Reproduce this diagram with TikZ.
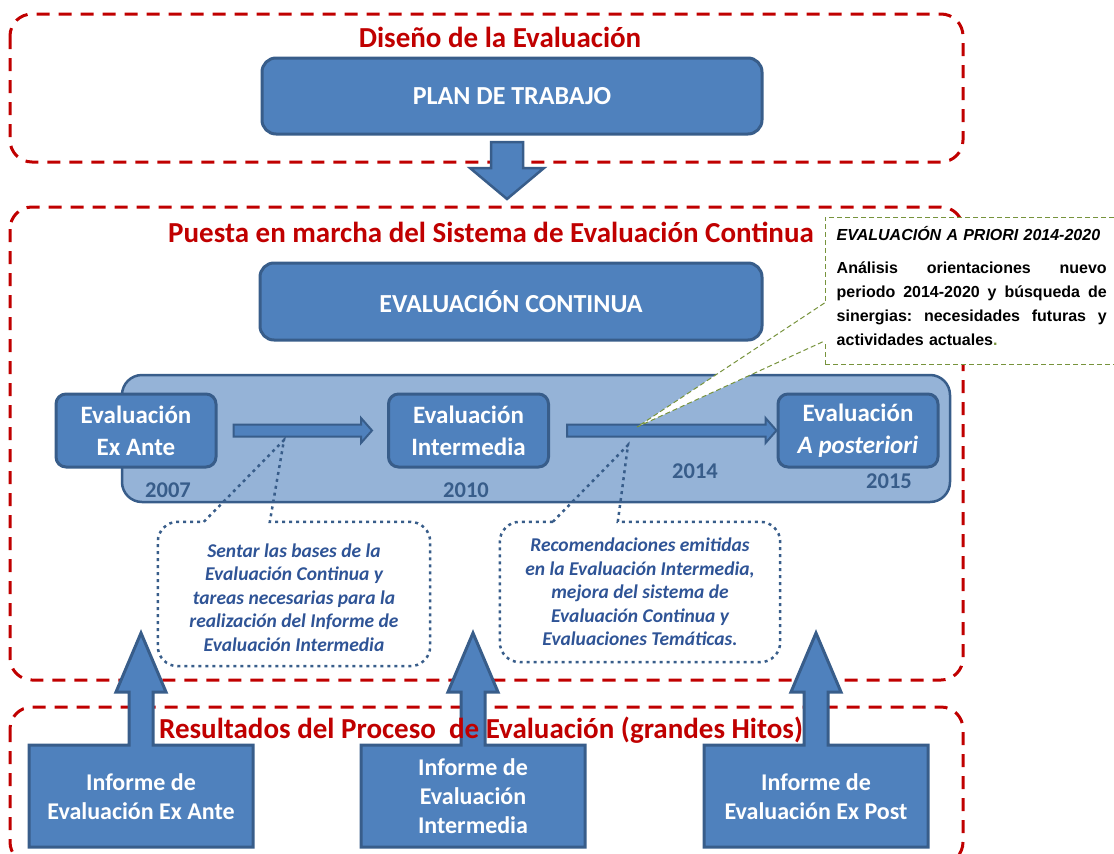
\documentclass[tikz,border=0pt]{standalone}
\usepackage{fontspec}
\setmainfont{Carlito}
\newfontfamily\arialfont{Liberation Sans}
\usepackage{tikz}
\usetikzlibrary{positioning}
\definecolor{framered}{HTML}{C00000}
\definecolor{boxblue}{HTML}{4F81BD}
\definecolor{boxedge}{HTML}{385D8A}
\definecolor{lightblue}{HTML}{95B3D7}
\definecolor{noteblue}{HTML}{2F5496}
\definecolor{notegreen}{HTML}{77933C}

\begin{document}
\begin{tikzpicture}[
    x = 1pt, y = -1pt,
    every node/.style = {font=\bfseries},
    frame/.style = {draw=framered, line width=3pt, dash pattern=on 13pt off 9pt,
                    rounded corners=22pt},
    frametitle/.style = {text=framered, inner sep=0pt, font=\fontsize{29}{33}\selectfont\bfseries},
    bigbox/.style = {rectangle, rounded corners=14pt, draw=boxedge, fill=boxblue,
                     line width=3pt, text=white, minimum width=500pt, minimum height=76pt,
                     font=\fontsize{26}{30}\selectfont\bfseries},
    evalbox/.style = {rectangle, rounded corners=10pt, draw=boxedge, fill=boxblue,
                      line width=3pt, text=white, align=center, inner sep=0pt,
                      minimum width=160pt, minimum height=73pt,
                      font=\fontsize{25}{32}\selectfont\bfseries},
    year/.style = {text=boxedge, inner sep=0pt, font=\fontsize{22.5}{26}\selectfont\bfseries},
    tlarrow/.style = {draw=boxedge, fill=boxblue, line width=2pt},
    blockarrow/.style = {draw=boxedge, fill=boxblue, line width=2.5pt},
    note/.style = {align=center, text=noteblue, minimum width=272pt, minimum height=144pt,
                   font=\fontsize{19.5}{23.5}\selectfont\bfseries\itshape},
    notedots/.style = {draw=boxedge, line width=2.5pt, dash pattern=on 3pt off 4pt},
    priorbox/.style = {draw=notegreen, fill=white, line width=1pt, dash pattern=on 5pt off 3pt,
                       minimum width=295pt, minimum height=147pt},
    priortext/.style = {text width=270pt, inner sep=0pt, align=left, anchor=north west,
                        font=\arialfont\fontsize{15.7}{24}\selectfont\bfseries},
    priorline/.style = {draw=notegreen, line width=1pt, dash pattern=on 5pt off 3pt},
    hito/.style = {draw=boxedge, fill=boxblue, line width=3pt},
    hitotext/.style = {text=white, align=center, minimum height=102pt,
                       font=\fontsize{24}{29}\selectfont\bfseries}
  ]
    \useasboundingbox (0,0) rectangle (1114,854);

    % Frames
    \draw[frame] (10,14) rectangle (963,162);
    \draw[frame] (10,207) rectangle (963,680);
    \draw[frame] (10,707) rectangle (963,864);

    % Design
    \node[frametitle] (diseno) at (500,37) {Diseño de la Evaluación};
    \node[bigbox] (plan) at (512,96) {PLAN DE TRABAJO};
    \coordinate (bajada) at (507,142);
    \draw[blockarrow] (bajada) ++(-16,0) -- ++(32,0) -- ++(0,26) -- ++(21,0)
        -- ++(-37,31) -- ++(-37,-31) -- ++(21,0) -- cycle;

    % Continuous evaluation
    \node[frametitle] (puesta) at (491,232) {Puesta en marcha del Sistema de Evaluación Continua};
    \node[bigbox, minimum width=502pt, minimum height=77pt] (continua) at (511,301.5) {EVALUACIÓN CONTINUA};
    \node[rectangle, rounded corners=20pt, draw=boxedge, fill=lightblue, line width=2.5pt,
          minimum width=828pt, minimum height=127pt] (linea) at (536,438.5) {};
    \node[evalbox] (exante) at (136,430.5) {Evaluación\\Ex Ante};
    \node[evalbox] (intermedia) at (468.5,430.5) {Evaluación\\Intermedia};
    \node[evalbox] (posteriori) at (858,430.5) {Evaluación\\\textit{A posteriori}};

    \draw[tlarrow] ([shift={(16,-6)}]exante.east) -- ([shift={(-26,-6)}]intermedia.west)
        -- ([shift={(-26,-12.5)}]intermedia.west) -- ([xshift=-15]intermedia.west)
        -- ([shift={(-26,12.5)}]intermedia.west) -- ([shift={(-26,6)}]intermedia.west)
        -- ([shift={(16,6)}]exante.east) -- cycle;
    \draw[tlarrow] ([shift={(17,-6)}]intermedia.east) -- ([shift={(-11,-6)}]posteriori.west)
        -- ([shift={(-11,-12.5)}]posteriori.west) -- (posteriori.west)
        -- ([shift={(-11,12.5)}]posteriori.west) -- ([shift={(-11,6)}]posteriori.west)
        -- ([shift={(17,6)}]intermedia.east) -- cycle;

    \node[year] (y2007) at (168,490) {2007};
    \node[year] (y2010) at (466,490) {2010};
    \node[year] (y2014) at (695,471) {2014};
    \node[year] (y2015) at (889,481) {2015};

    % A priori callout
    \node[priorbox] (priori) at (972.5,290.5) {};
    \node[priortext] (prioritxt) at ([shift={(12,10)}]priori.north west)
        {\fontsize{16}{24}\selectfont\textit{EVALUACIÓN A PRIORI 2014-2020}\\[9pt]
        \makebox[270pt][l]{Análisis\hfill orientaciones\hfill nuevo}\\
        \makebox[270pt][l]{periodo\hfill 2014-2020\hfill y\hfill búsqueda\hfill de}\\
        \makebox[270pt][l]{sinergias:\hfill necesidades\hfill futuras\hfill y}\\
        actividades actuales\textcolor{notegreen}{.}};
    \coordinate (prioritip) at (637,427);
    \fill[white] ([yshift=-12.5]priori.west) -- (prioritip) -- ([yshift=-50.5]priori.west)
        -- ([shift={(2,50.5)}]priori.west) -- ([shift={(2,12.5)}]priori.west) -- cycle;
    \draw[priorline] ([yshift=-12.5]priori.west) -- (prioritip) -- ([yshift=-50.5]priori.west);

    % Dotted notes
    \coordinate (tipbases) at (284,440);
    \node[note] (bases) at (294,594) {\\[-3pt]Sentar las bases de la\\Evaluación Continua  y\\tareas necesarias para la\\realización del Informe de\\Evaluación Intermedia};
    \draw[notedots] ([xshift=46]bases.north west) -- (tipbases) -- ([xshift=112]bases.north west)
        [rounded corners=20pt] -- (bases.north east) -- (bases.south east)
        -- (bases.south west) -- (bases.north west) -- ([xshift=46]bases.north west);

    \coordinate (tiprecom) at (628,445);
    \node[note, minimum width=280pt, minimum height=140pt] (recom) at (640,592) {Recomendaciones emitidas\\en la Evaluación Intermedia,\\mejora del sistema de\\Evaluación Continua  y\\Evaluaciones Temáticas.};
    \draw[notedots] ([xshift=53]recom.north west) -- (tiprecom) -- ([xshift=118]recom.north west)
        [rounded corners=20pt] -- (recom.north east) -- (recom.south east)
        -- (recom.south west) -- (recom.north west) -- ([xshift=53]recom.north west);

    % Results
    \coordinate (hA) at (141,745);
    \coordinate (hB) at (473,745);
    \coordinate (hC) at (816,745);
    \foreach \h in {hA,hB,hC}
      \draw[hito] (\h) ++(-12,0) -- ++(0,-53) -- ++(-13,0) -- ++(25,-59) -- ++(25,59)
          -- ++(-13,0) -- ++(0,53) -- ++(100,0) -- ++(0,102) -- ++(-224,0) -- ++(0,-102) -- cycle;
    \node[hitotext, below=0pt of hA] (infA) {Informe de\\Evaluación Ex Ante};
    \node[hitotext, below=0pt of hB] (infB) {Informe de\\Evaluación\\Intermedia};
    \node[hitotext, below=0pt of hC] (infC) {Informe de\\Evaluación Ex Post};
    \node[frametitle] (resultados) at (481,730) {Resultados del Proceso\ \ de Evaluación (grandes Hitos)};

  \end{tikzpicture}
\end{document}
